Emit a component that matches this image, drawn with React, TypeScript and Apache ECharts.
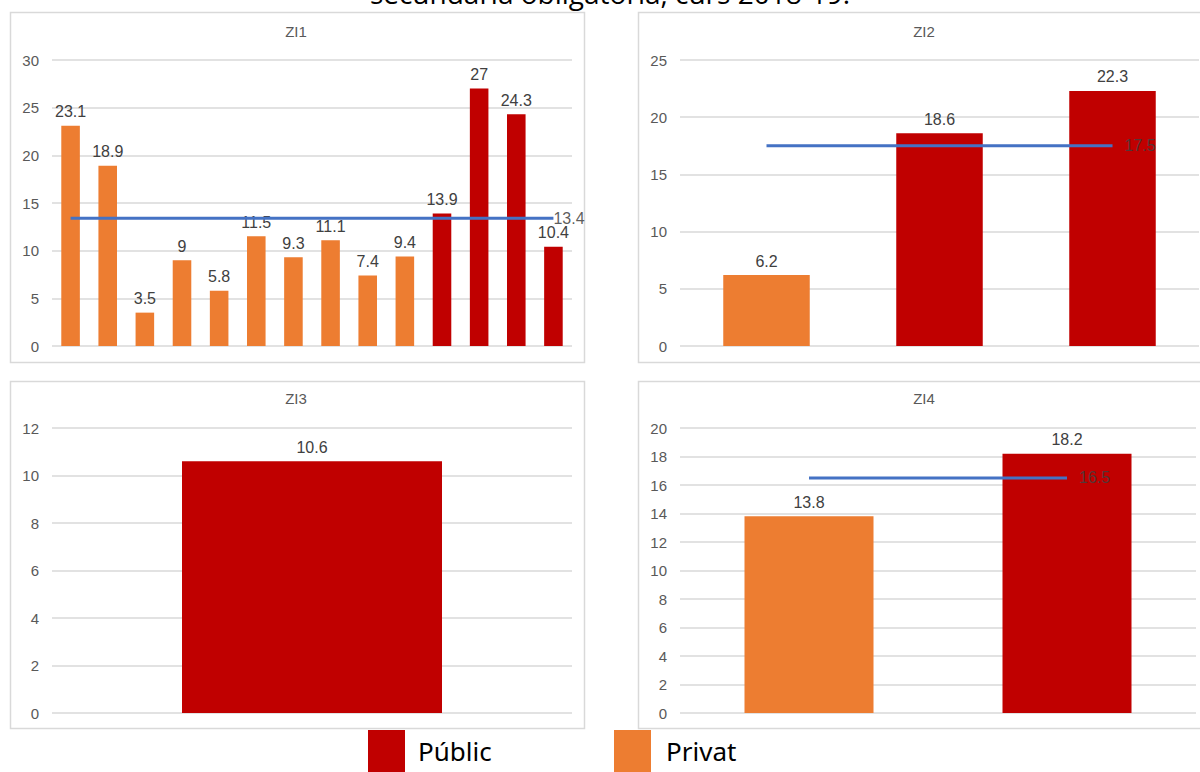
import React, { useEffect, useRef } from "react";
import * as echarts from "echarts";

// ---- Data ----
const zi1Categories = ["C1", "C2", "C3", "C4", "C5", "C6", "C7", "C8", "C9", "C10", "C11", "C12", "C13", "C14"];
const zi1Values = [23.1, 18.9, 3.5, 9, 5.8, 11.5, 9.3, 11.1, 7.4, 9.4, 13.9, 27, 24.3, 10.4];
const zi1Types = ["Privat", "Privat", "Privat", "Privat", "Privat", "Privat", "Privat", "Privat", "Privat", "Privat", "Públic", "Públic", "Públic", "Públic"];
const zi1Mean = 13.4;

const zi2Categories = ["C1", "C2", "C3"];
const zi2Values = [6.2, 18.6, 22.3];
const zi2Types = ["Privat", "Públic", "Públic"];
const zi2Mean = 17.5;

const zi3Categories = ["C1"];
const zi3Values = [10.6];
const zi3Types = ["Públic"];

const zi4Categories = ["C1", "C2"];
const zi4Values = [13.8, 18.2];
const zi4Types = ["Privat", "Públic"];
const zi4Mean = 16.5;

const panelTitles = ["ZI1", "ZI2", "ZI3", "ZI4"];
const legendNames = ["Públic", "Privat"];
const titleText = "secundària obligatòria, curs 2018-19.";

const COLORS: Record<string, string> = { "Públic": "#C00000", "Privat": "#ED7D31" };
const LINE_COLOR = "#4472C4";
const GRID_COLOR = "#D9D9D9";
const TEXT_COLOR = "#595959";
const FONT = "Liberation Sans";

export default function App() {
  const ref = useRef<HTMLDivElement>(null);

  useEffect(() => {
    if (!ref.current) return;
    const chart = echarts.init(ref.current, null, { renderer: "svg" });

    const grids = [
      { left: 52, top: 60, width: 520, height: 286 },
      { left: 680, top: 60, width: 519, height: 286 },
      { left: 52, top: 428, width: 520, height: 285 },
      { left: 680, top: 428, width: 516, height: 285 },
    ];
    const cats = [zi1Categories, zi2Categories, zi3Categories, zi4Categories];
    const yCfg = [
      { max: 30, interval: 5 },
      { max: 25, interval: 5 },
      { max: 12, interval: 2 },
      { max: 20, interval: 2 },
    ];

    const xAxis = cats.map((c, i) => ({
      type: "category",
      gridIndex: i,
      data: c,
      axisLine: { show: false },
      axisTick: { show: false },
      axisLabel: { show: false },
    }));
    const yAxis = yCfg.map((y, i) => ({
      type: "value",
      gridIndex: i,
      min: 0,
      max: y.max,
      interval: y.interval,
      axisLine: { show: false },
      axisTick: { show: false },
      axisLabel: { color: TEXT_COLOR, fontSize: 15, fontFamily: FONT, margin: 13 },
      splitLine: { lineStyle: { color: GRID_COLOR, width: 1.5 } },
    }));

    const barSeries = (vals: number[], types: string[], idx: number) => ({
      type: "bar",
      xAxisIndex: idx,
      yAxisIndex: idx,
      barWidth: "50%",
      data: vals.map((v, i) => ({ value: v, itemStyle: { color: COLORS[types[i]] } })),
      label: {
        show: true,
        position: "top",
        distance: 6,
        color: "#404040",
        fontSize: 16,
        fontFamily: FONT,
      },
      z: 2,
    });

    const meanSeries = (mean: number, n: number, idx: number, dist: number) => ({
      type: "line",
      xAxisIndex: idx,
      yAxisIndex: idx,
      symbol: "none",
      lineStyle: { color: LINE_COLOR, width: 3 },
      data: Array.from({ length: n }, () => mean),
      endLabel: {
        show: true,
        distance: dist,
        color: "rgba(64,64,64,0.85)",
        fontSize: 16,
        fontFamily: FONT,
        formatter: (p: any) => String(p.value),
      },
      z: 3,
    });

    const series = [
      barSeries(zi1Values, zi1Types, 0),
      meanSeries(zi1Mean, zi1Values.length, 0, 0),
      barSeries(zi2Values, zi2Types, 1),
      meanSeries(zi2Mean, zi2Values.length, 1, 12),
      barSeries(zi3Values, zi3Types, 2),
      barSeries(zi4Values, zi4Types, 3),
      meanSeries(zi4Mean, zi4Values.length, 3, 12),
    ];

    const titlePos = [
      { x: 296, y: 31 },
      { x: 924, y: 31 },
      { x: 296, y: 398 },
      { x: 924, y: 398 },
    ];
    const panels = [
      { x: 10.5, y: 12.5, w: 574, h: 350 },
      { x: 638.5, y: 12.5, w: 570, h: 350 },
      { x: 10.5, y: 381.5, w: 574, h: 347 },
      { x: 638.5, y: 381.5, w: 570, h: 347 },
    ];

    const graphic: any[] = [];
    panels.forEach((p) =>
      graphic.push({
        type: "rect",
        shape: { x: p.x, y: p.y, width: p.w, height: p.h },
        style: { fill: "#fff", stroke: GRID_COLOR, lineWidth: 1.5 },
        z: -10,
      })
    );
    panelTitles.forEach((t, i) =>
      graphic.push({
        type: "text",
        x: titlePos[i].x,
        y: titlePos[i].y,
        style: {
          text: t,
          fill: TEXT_COLOR,
          fontSize: 15,
          fontFamily: FONT,
          align: "center",
          verticalAlign: "middle",
        },
      })
    );
    graphic.push({
      type: "text",
      x: 610,
      y: -7,
      style: {
        text: titleText,
        fill: "#000",
        fontSize: 28,
        fontFamily: "Open Sans",
        align: "center",
        verticalAlign: "middle",
      },
    });
    const legendPos = [
      { sx: 368, tx: 418 },
      { sx: 614, tx: 666 },
    ];
    legendNames.forEach((n, i) => {
      graphic.push({
        type: "rect",
        shape: { x: legendPos[i].sx, y: 730, width: 37, height: 42 },
        style: { fill: COLORS[n] },
      });
      graphic.push({
        type: "text",
        x: legendPos[i].tx,
        y: 751,
        style: {
          text: n,
          fill: "#000",
          fontSize: 26,
          fontFamily: "Noto Sans",
          verticalAlign: "middle",
        },
      });
    });

    chart.setOption({
      animation: false,
      backgroundColor: "#fff",
      grid: grids.map((g) => ({ ...g, containLabel: false })),
      xAxis,
      yAxis,
      series,
      graphic,
    });

    return () => chart.dispose();
  }, []);

  return (
    <div
      ref={ref}
      style={{ position: "fixed", left: 0, top: 0, width: 1200, height: 772 }}
    />
  );
}
